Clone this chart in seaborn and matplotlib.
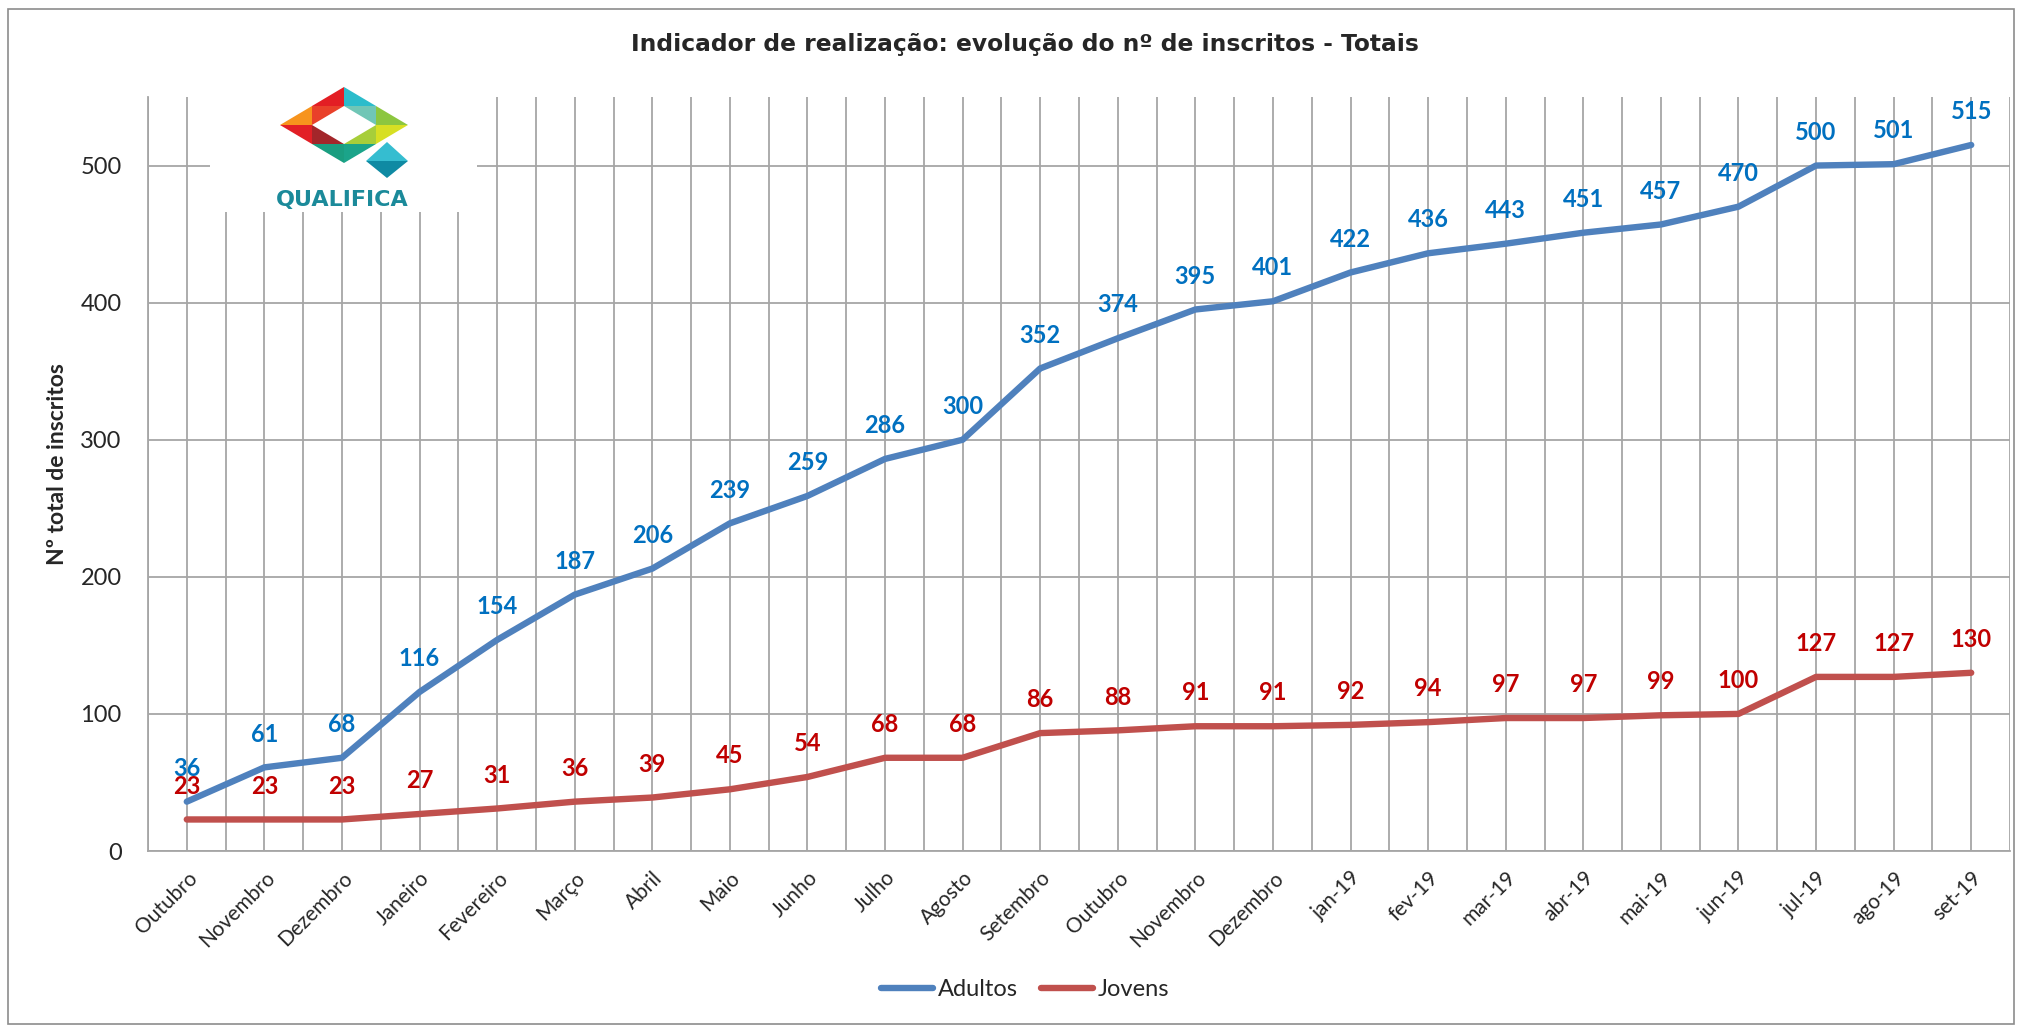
import matplotlib.pyplot as plt
import numpy as np
import pandas as pd
import seaborn as sns
from matplotlib.patches import Polygon, Rectangle
from matplotlib.lines import Line2D

# dados
meses = ["Outubro", "Novembro", "Dezembro", "Janeiro", "Fevereiro", "Março",
         "Abril", "Maio", "Junho", "Julho", "Agosto", "Setembro", "Outubro",
         "Novembro", "Dezembro", "jan-19", "fev-19", "mar-19", "abr-19",
         "mai-19", "jun-19", "jul-19", "ago-19", "set-19"]
adultos = [36, 61, 68, 116, 154, 187, 206, 239, 259, 286, 300, 352, 374,
           395, 401, 422, 436, 443, 451, 457, 470, 500, 501, 515]
jovens = [23, 23, 23, 27, 31, 36, 39, 45, 54, 68, 68, 86, 88,
          91, 91, 92, 94, 97, 97, 99, 100, 127, 127, 130]
series = ["Adultos", "Jovens"]
y_ticks = [0, 100, 200, 300, 400, 500]

cor_linha = {"Adultos": "#4F81BD", "Jovens": "#C0504D"}
cor_rotulo = {"Adultos": "#0070C0", "Jovens": "#C00000"}
cinza = "#A6A6A6"

sns.set_style("white")
plt.rcParams["font.family"] = ["Lato", "DejaVu Sans"]

W, H = 2022, 1025
n = len(meses)
df = pd.DataFrame({
    "pos": list(range(n)) * 2,
    "valor": adultos + jovens,
    "serie": ["Adultos"] * n + ["Jovens"] * n,
})

fig = plt.figure(figsize=(W / 100, H / 100), dpi=100)
ax = fig.add_axes([148 / W, 1 - 851 / H, (2010 - 148) / W, (851 - 97) / H])

sns.lineplot(data=df, x="pos", y="valor", hue="serie", palette=cor_linha,
             linewidth=4.6, ax=ax, legend=False)
for ln in ax.lines:
    ln.set_solid_capstyle("round")
    ln.set_solid_joinstyle("round")

# rotulos de dados
for nome, vals in zip(series, [adultos, jovens]):
    for i, v in enumerate(vals):
        ax.annotate(str(v), (i, v), xytext=(0, 24), textcoords="offset points",
                    ha="center", va="center", fontsize=17, fontweight="bold",
                    color=cor_rotulo[nome])

ax.set_xlim(-0.5, n - 0.5)
ax.set_ylim(0, 550)
ax.set_yticks(y_ticks)
ax.set_xticks(range(n))
ax.set_xticklabels(meses, rotation=45, ha="right", rotation_mode="anchor",
                   fontsize=15)
ax.set_xticks(np.arange(-0.5, n, 1), minor=True)

ax.tick_params(axis="x", which="major", length=0, pad=12)
ax.tick_params(axis="x", which="minor", length=8, width=1.3, color=cinza)
ax.tick_params(axis="y", length=8, width=1.3, color=cinza, labelsize=17, pad=11)

ax.set_axisbelow(True)
ax.grid(True, axis="x", which="both", color=cinza, linewidth=1.3)
ax.grid(True, axis="y", which="major", color=cinza, linewidth=1.3)

for s in ["top", "right"]:
    ax.spines[s].set_visible(False)
for s in ["left", "bottom"]:
    ax.spines[s].set_color(cinza)
    ax.spines[s].set_linewidth(1.3)

ax.set_xlabel("")
ax.set_ylabel("Nº total de inscritos", fontsize=16.5, fontweight="bold")
ax.yaxis.set_label_coords(-0.043, 0.513)

fig.text(1025 / W, 1 - 45 / H,
         "Indicador de realização: evolução do nº de inscritos - Totais",
         ha="center", va="center", fontsize=16.8, fontweight="bold",
         family="DejaVu Sans")

# legenda
handles = [Line2D([], [], color=cor_linha[s], linewidth=4.6,
                  solid_capstyle="round") for s in series]
fig.legend(handles, series, loc="center", bbox_to_anchor=(1025 / W, 1 - 990 / H),
           ncol=2, frameon=False, fontsize=17, handlelength=2.2,
           handletextpad=0.2, columnspacing=1.0)

# fundo branco do logotipo
ax.add_patch(Rectangle((210 / W, 1 - 212 / H), 267 / W, 115 / H,
                       transform=fig.transFigure, facecolor="white",
                       edgecolor="none", zorder=1, clip_on=False))

# logotipo simplificado
logo = fig.add_axes([280 / W, 1 - 178 / H, 128 / W, 91 / H])
logo.set_xlim(-64, 64)
logo.set_ylim(-53, 38)
logo.axis("off")
L, T, R, B = (-64, 0), (0, 38), (64, 0), (0, -38)
hL, hT, hR, hB = (-32, 0), (0, 19), (32, 0), (0, -19)
mLT, mTR, mRB, mBL = (-32, 19), (32, 19), (32, -19), (-32, -19)
triangulos = [
    ([(22, -36), (43, -17), (64, -36)], "#35BDD0"),
    ([(22, -36), (64, -36), (43, -53)], "#0F8AA3"),
    ([L, mLT, hL], "#F7941D"), ([mLT, hT, hL], "#E9412A"), ([mLT, T, hT], "#E31E24"),
    ([T, mTR, hT], "#2BBCCB"), ([mTR, hR, hT], "#70C6B6"), ([mTR, R, hR], "#8CC63F"),
    ([R, mRB, hR], "#D7DF23"), ([mRB, hB, hR], "#A7CE3A"), ([mRB, B, hB], "#1BA48A"),
    ([B, mBL, hB], "#1A9E80"), ([mBL, hL, hB], "#A3262A"), ([mBL, L, hL], "#E21F26"),
]
for pts, c in triangulos:
    logo.add_patch(Polygon(pts, closed=True, facecolor=c, edgecolor="none"))
fig.text(342 / W, 1 - 200 / H, "QUALIFICA", ha="center", va="center",
         fontsize=16, fontweight="bold", color="#1B8A9A", family="DejaVu Sans")

# moldura
fig.patches.append(Rectangle((8 / W, 1 / H), (2014 - 8) / W, (1016 - 1) / H,
                             transform=fig.transFigure, fill=False,
                             edgecolor="#8C8C8C", linewidth=1.2))

fig.savefig("out.png", dpi=100)
